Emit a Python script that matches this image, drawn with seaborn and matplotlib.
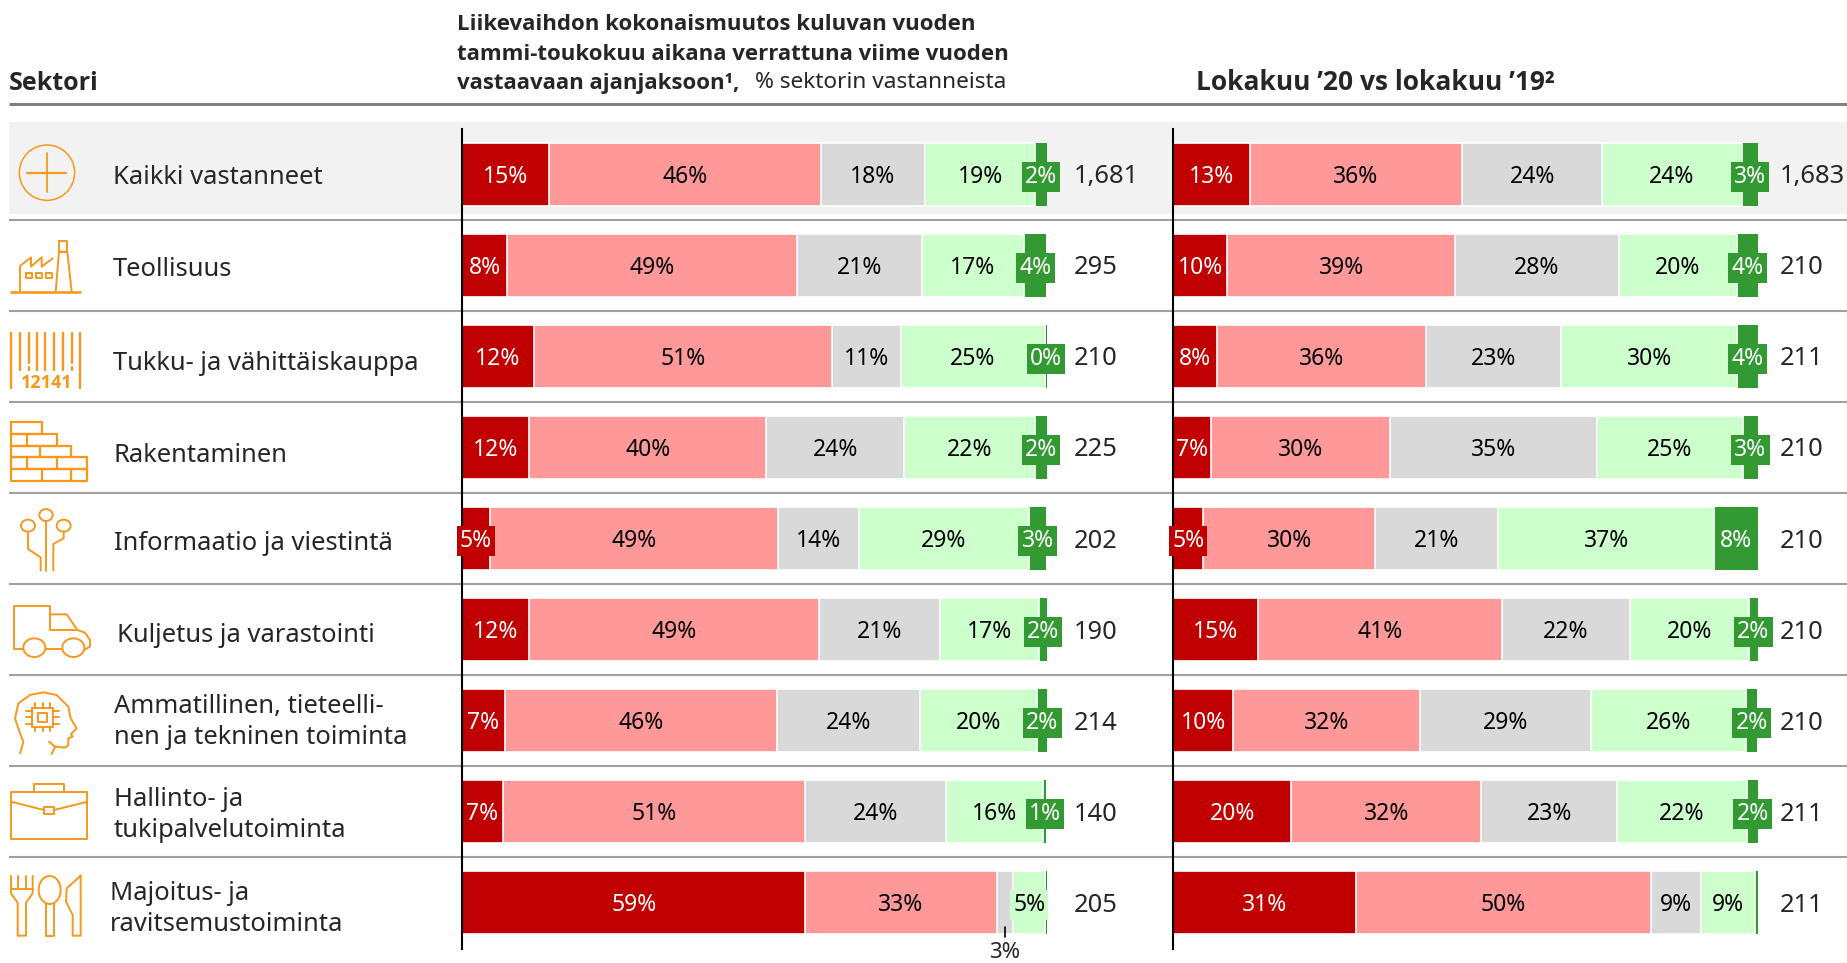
import numpy as np
import pandas as pd
import seaborn as sns
import matplotlib.pyplot as plt
from matplotlib.patches import Circle, Ellipse, Rectangle

# data
sectors = ["Kaikki vastanneet", "Teollisuus", "Tukku- ja vähittäiskauppa", "Rakentaminen",
           "Informaatio ja viestintä", "Kuljetus ja varastointi",
           "Ammatillinen, tieteelli-\nnen ja tekninen toiminta",
           "Hallinto- ja\ntukipalvelutoiminta", "Majoitus- ja\nravitsemustoiminta"]

# vasen paneeli (palkkien leveydet kuvasta luettuna)
left_s1 = [14.9, 7.7, 12.3, 11.5, 4.8, 11.5, 7.3, 7.0, 58.7]
left_s2 = [46.4, 49.6, 51.0, 40.5, 49.2, 49.6, 46.6, 51.6, 32.7]
left_s3 = [17.9, 21.3, 11.7, 23.6, 13.9, 20.6, 24.4, 24.2, 2.8]
left_s4 = [18.8, 17.5, 24.6, 22.4, 29.0, 16.9, 20.0, 16.6, 5.5]
left_s5 = [2.0, 3.8, 0.4, 2.0, 3.0, 1.4, 1.8, 0.5, 0.3]
left_lab1 = ["15%", "8%", "12%", "12%", "5%", "12%", "7%", "7%", "59%"]
left_lab2 = ["46%", "49%", "51%", "40%", "49%", "49%", "46%", "51%", "33%"]
left_lab3 = ["18%", "21%", "11%", "24%", "14%", "21%", "24%", "24%", ""]
left_lab4 = ["19%", "17%", "25%", "22%", "29%", "17%", "20%", "16%", "5%"]
left_lab5 = ["2%", "4%", "0%", "2%", "3%", "2%", "2%", "1%", ""]
left_n = ["1,681", "295", "210", "225", "202", "190", "214", "140", "205"]

# oikea paneeli
right_s1 = [13.1, 9.3, 7.5, 6.5, 5.2, 14.5, 10.3, 20.2, 31.3]
right_s2 = [36.3, 38.9, 35.7, 30.6, 29.4, 41.7, 32.0, 32.5, 50.4]
right_s3 = [24.0, 28.0, 23.2, 35.3, 21.0, 22.0, 29.2, 23.2, 8.5]
right_s4 = [23.8, 20.2, 30.0, 25.0, 36.9, 20.2, 26.4, 22.2, 9.3]
right_s5 = [2.8, 3.6, 3.6, 2.6, 7.5, 1.6, 2.0, 2.0, 0.6]
right_lab1 = ["13%", "10%", "8%", "7%", "5%", "15%", "10%", "20%", "31%"]
right_lab2 = ["36%", "39%", "36%", "30%", "30%", "41%", "32%", "32%", "50%"]
right_lab3 = ["24%", "28%", "23%", "35%", "21%", "22%", "29%", "23%", "9%"]
right_lab4 = ["24%", "20%", "30%", "25%", "37%", "20%", "26%", "22%", "9%"]
right_lab5 = ["3%", "4%", "4%", "3%", "8%", "2%", "2%", "2%", ""]
right_n = ["1,683", "210", "211", "210", "210", "210", "210", "211", "211"]

colors = ["#C00000", "#FF9999", "#D9D9D9", "#CCFFCC", "#339933"]
text_colors = ["white", "black", "black", "black", "white"]
orange = "#F7981D"

sns.set_theme(style="white")
plt.rcParams["font.family"] = ["Noto Sans", "DejaVu Sans"]
bold_font = ["Open Sans", "DejaVu Sans"]

W, H = 1847, 963
fig = plt.figure(figsize=(W / 100, H / 100), dpi=100)
fig.patch.set_facecolor("white")

# pikseliakselit taustalle, otsikoille ja ikoneille
bg = fig.add_axes([0, 0, 1, 1], zorder=0)
bg.set_xlim(0, W)
bg.set_ylim(H, 0)
bg.axis("off")

bg.add_patch(Rectangle((9, 122), W - 9, 92, color="#F2F2F2", lw=0))
bg.plot([9, W], [104, 104], color="#808080", lw=2.2, solid_capstyle="butt")
for yy in [220, 311, 402, 493, 584, 675, 766, 857]:
    bg.plot([9, W], [yy, yy], color="#A0A0A0", lw=1.5, solid_capstyle="butt")

FS = 18.4
HS = 16
bg.text(9, 83, "Sektori", fontsize=18, fontweight="bold", family=bold_font, va="center")
bg.text(457, 25, "Liikevaihdon kokonaismuutos kuluvan vuoden", fontsize=HS, fontweight="bold", family=bold_font, va="center")
bg.text(457, 54, "tammi-toukokuu aikana verrattuna viime vuoden", fontsize=HS, fontweight="bold", family=bold_font, va="center")
bg.text(457, 83, "vastaavaan ajanjaksoon¹,", fontsize=HS, fontweight="bold", family=bold_font, va="center")
bg.text(755, 83, "% sektorin vastanneista", fontsize=16.3, va="center")
bg.text(1196, 83, "Lokakuu ’20 vs lokakuu ’19²", fontsize=19, fontweight="bold", family=bold_font, va="center")

sector_x = [113, 113, 113, 114, 114, 117, 114, 114, 110]
sector_y = [177, 270, 364, 455, 544, 635, 722, 815, 909]
for name, sx, sy in zip(sectors, sector_x, sector_y):
    bg.text(sx, sy, name, fontsize=FS, va="center", linespacing=1.3)


# ikonit: koordinaatit on luettu 3x-zoomista
def pl(points, oy, lw=1.4):
    xs = [p[0] / 3 for p in points]
    ys = [oy + p[1] / 3 for p in points]
    bg.plot(xs, ys, color=orange, lw=lw, solid_joinstyle="round")


def ell(cx, cy, rx, ry, oy, lw=1.4):
    bg.add_patch(Ellipse((cx / 3, oy + cy / 3), 2 * rx / 3, 2 * ry / 3, fill=False, ec=orange, lw=lw))


def box(x0, y0, x1, y1, oy, lw=1.4):
    pl([(x0, y0), (x1, y0), (x1, y1), (x0, y1), (x0, y0)], oy, lw)


# kaikki
ell(141, 158, 83, 83, 120, 1.1)
pl([(80, 158), (198, 158)], 120, 1.6)
pl([(141, 100), (141, 215)], 120, 1.3)
# tehdas
pl([(33, 516), (240, 516)], 120, 1.9)
pl([(167, 516), (177, 395), (202, 395), (215, 516)], 120)
box(177, 362, 201, 395, 120)
pl([(60, 516), (60, 438), (93, 412), (93, 440), (125, 412), (125, 440), (158, 415)], 120)
for x0 in [78, 108, 138]:
    box(x0, 460, x0 + 17, 475, 120)
# viivakoodi
for x0, y1 in [(33, 805), (240, 805), (60, 750), (111, 750), (136, 750), (163, 750), (188, 750), (87, 728), (215, 728)]:
    pl([(x0, 640), (x0, y1)], 120, 1.7)
for x0 in [87, 215]:
    pl([(x0, 741), (x0, 750)], 120, 1.7)
bg.text(140 / 3, 120 + 790 / 3, "12141", color=orange, fontsize=13, fontweight="bold", family=bold_font, ha="center", va="center")
# tiilet
brick_rows = [(906, 941, 126, []), (941, 977, 172, [80]), (977, 1012, 214, [120]),
              (1012, 1047, 262, [80, 172]), (1047, 1083, 262, [126, 214])]
for y0, y1, xe, divs in brick_rows:
    box(33, y0, xe, y1, 120, 1.6)
    for d in divs:
        pl([(d, y0), (d, y1)], 120, 1.6)
# piiri
ell(138, 105, 20, 18, 480)
ell(84, 137, 21, 18, 480)
ell(191, 137, 21, 18, 480)
pl([(138, 123), (138, 272)], 480)
pl([(84, 155), (84, 207), (122, 232), (122, 272)], 480)
pl([(191, 155), (191, 175), (160, 192), (160, 272)], 480)
# rekka
pl([(70, 507), (43, 507), (43, 378), (150, 378), (150, 450), (232, 450)], 480)
pl([(150, 403), (200, 403), (232, 450), (255, 458), (270, 480), (270, 500), (252, 510)], 480)
ell(103, 503, 33, 28, 480)
ell(220, 503, 33, 28, 480)
pl([(137, 507), (187, 507)], 480)
# paa ja siru
pl([(60, 820), (70, 785), (60, 760), (45, 715), (55, 670), (90, 645), (130, 637), (170, 645), (205, 680),
    (212, 715), (230, 745), (213, 762), (218, 770), (205, 775), (205, 795), (195, 803), (165, 800), (155, 822)], 480)
pl([(147, 785), (165, 800)], 480)
box(95, 685, 160, 740, 480)
box(113, 698, 142, 725, 480)
for x0 in [105, 128, 150]:
    pl([(x0, 670), (x0, 685)], 480)
    pl([(x0, 740), (x0, 752)], 480)
for y0 in [692, 712, 732]:
    pl([(78, y0), (95, y0)], 480)
    pl([(160, y0), (177, y0)], 480)
# salkku
box(33, 935, 262, 1078, 480)
pl([(103, 935), (103, 913), (193, 913), (193, 935)], 480)
pl([(33, 965), (132, 990)], 480)
pl([(163, 990), (262, 965)], 480)
box(132, 982, 163, 1002, 480)
# aterimet
pl([(33, 1188), (33, 1240), (53, 1268), (53, 1367), (78, 1367), (78, 1268), (98, 1240), (98, 1188)], 480)
pl([(33, 1228), (98, 1228)], 480)
pl([(55, 1188), (55, 1228)], 480)
pl([(77, 1188), (77, 1228)], 480)
ell(149, 1230, 33, 42, 480)
pl([(137, 1270), (137, 1367), (161, 1367), (161, 1270)], 480)
pl([(242, 1187), (242, 1367), (218, 1367), (218, 1305), (198, 1265), (200, 1225), (242, 1187)], 480)


def panel(x_px, series, labels, ns, n_x):
    ax = fig.add_axes([x_px / W, 1 - 948.5 / H, 585 / W, 819.5 / H], zorder=1)
    ax.set_facecolor("none")
    df = pd.DataFrame(dict(zip(range(5), series)), index=sectors)
    cum = df.cumsum(axis=1)
    # pinottu palkki: piirretaan pisimmasta lyhyimpaan
    for i in range(4, -1, -1):
        sns.barplot(x=cum[i].values, y=sectors, orient="y", color=colors[i], saturation=1,
                    width=63 / 91, edgecolor=colors[i] if i == 4 else "white",
                    linewidth=0 if i == 4 else 1.2, ax=ax)
    ax.set_xlim(0, 100)
    ax.set_ylim(8.5, -0.5)
    ax.set_xticks([])
    ax.set_yticks([])
    ax.set_xlabel("")
    ax.set_ylabel("")
    sns.despine(ax=ax, left=False, bottom=True)
    ax.spines["left"].set_color("black")
    ax.spines["left"].set_linewidth(1.5)
    ax.spines["left"].set_zorder(5)

    for i in range(5):
        mids = cum[i].values - df[i].values / 2
        for r, (xm, lab) in enumerate(zip(mids, labels[i])):
            if not lab:
                continue
            seg_px = df[i].values[r] * 5.85
            bbox = None
            # kapea osuus saa oman taustalaatikon
            if (i == 0 and seg_px < 32) or (i == 3 and seg_px < 48) or i == 4:
                bbox = dict(boxstyle="square,pad=0.14", fc=colors[i], ec="none")
            ax.text(xm, r + 0.025, lab, color=text_colors[i], fontsize=16.5, ha="center", va="center",
                    bbox=bbox, clip_on=False, zorder=6)
    for r, n in enumerate(ns):
        ax.text(n_x, r + 0.025, n, fontsize=18.4, ha="left", va="center", clip_on=False)
    return ax, cum


ax1, cum1 = panel(462, [left_s1, left_s2, left_s3, left_s4, left_s5],
                  [left_lab1, left_lab2, left_lab3, left_lab4, left_lab5], left_n, 104.5)
ax2, cum2 = panel(1173, [right_s1, right_s2, right_s3, right_s4, right_s5],
                  [right_lab1, right_lab2, right_lab3, right_lab4, right_lab5], right_n, 103.8)

# 3% palkin ulkopuolella
x3 = cum1[2].values[8] - left_s3[8] / 2
ax1.plot([x3, x3], [8.26, 8.37], color="black", lw=1.2, clip_on=False)
ax1.text(x3, 8.54, "3%", fontsize=16, ha="center", va="center", clip_on=False)

fig.savefig("out.png", dpi=100)
